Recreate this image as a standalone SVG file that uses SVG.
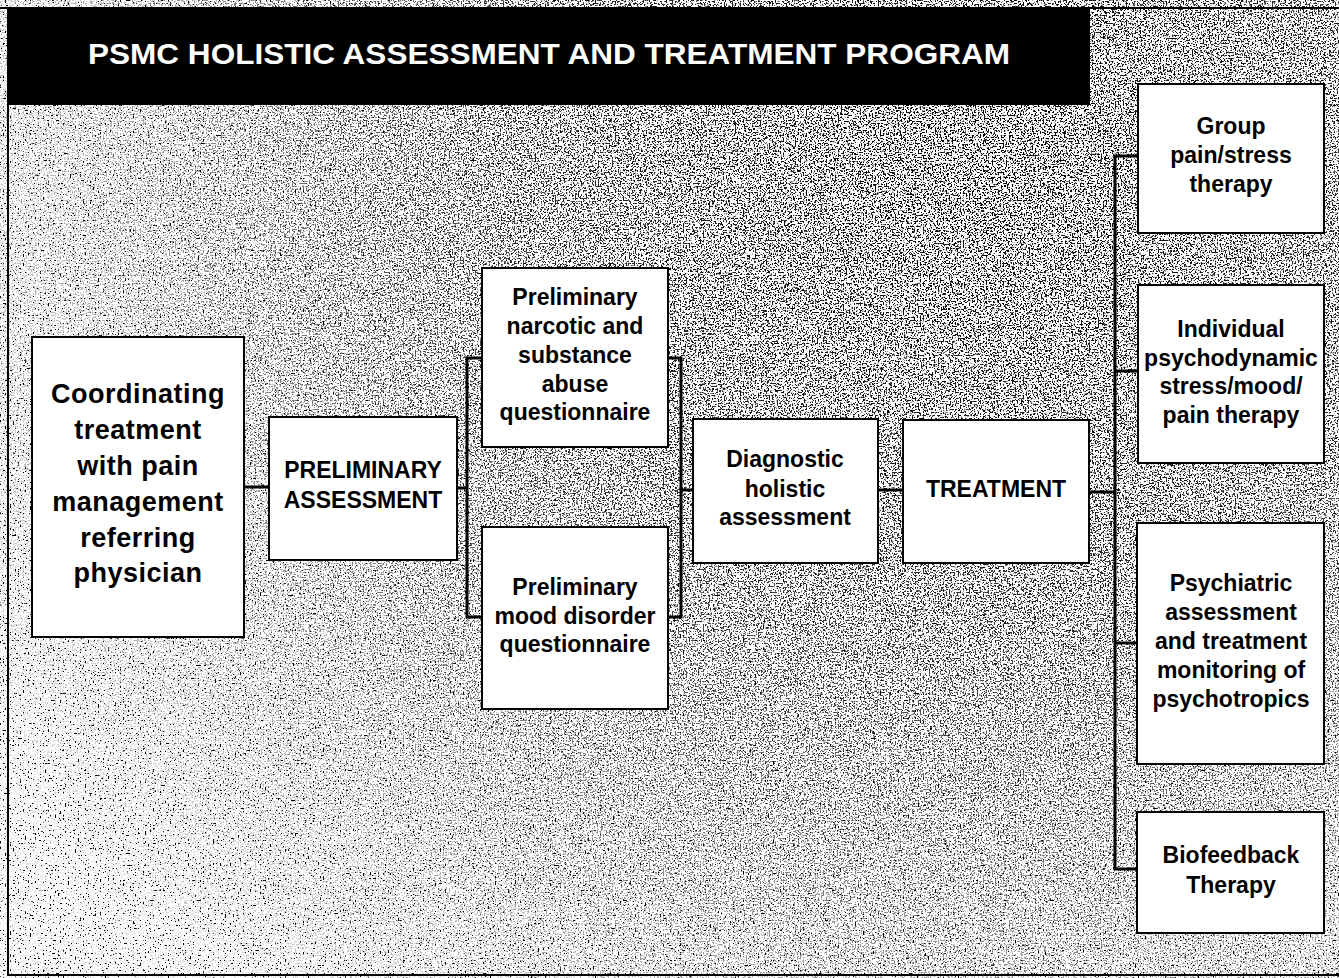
<svg xmlns="http://www.w3.org/2000/svg" width="1339" height="978" viewBox="0 0 1339 978">
<defs>
<filter id="stipA" x="0" y="0" width="100%" height="100%" filterUnits="userSpaceOnUse">
<feTurbulence type="fractalNoise" baseFrequency="0.6" numOctaves="1" seed="4" result="n"/>
<feColorMatrix in="n" type="matrix" values="0 0 0 0 0  0 0 0 0 0  0 0 0 0 0  22 0 0 0 -14.3"/>
</filter>
<filter id="stipB" x="0" y="0" width="100%" height="100%" filterUnits="userSpaceOnUse">
<feTurbulence type="fractalNoise" baseFrequency="0.65" numOctaves="1" seed="11" result="n"/>
<feColorMatrix in="n" type="matrix" values="0 0 0 0 0  0 0 0 0 0  0 0 0 0 0  16 0 0 0 -8.6"/>
</filter>
<radialGradient id="dens" gradientUnits="userSpaceOnUse" cx="980" cy="160" r="1150">
<stop offset="0" stop-color="#fff"/>
<stop offset="0.4" stop-color="#fff" stop-opacity="0.8"/>
<stop offset="0.8" stop-color="#fff" stop-opacity="0.3"/>
<stop offset="1" stop-color="#fff" stop-opacity="0.1"/>
</radialGradient>
<mask id="m" maskUnits="userSpaceOnUse" x="0" y="0" width="1339" height="978">
<rect x="0" y="0" width="1339" height="978" fill="url(#dens)"/>
</mask>
<style>
.box{fill:#fff;stroke:#000;stroke-width:2}
.t{font-family:"Liberation Sans",Arial,sans-serif;font-weight:bold;font-size:23px;fill:#000;text-anchor:middle}
.big{font-size:27px;letter-spacing:0.5px}
.con{fill:none;stroke:#000;stroke-width:3}
.frame{fill:none;stroke:#000;stroke-width:2}
</style>
</defs>
<rect x="0" y="0" width="1339" height="978" fill="#fff"/>
<g id="texture">
<rect x="8" y="9" width="1331" height="966" fill="#000" filter="url(#stipA)"/>
<rect x="8" y="9" width="1331" height="966" fill="#000" filter="url(#stipB)" mask="url(#m)"/>
</g>
<g id="frame">
<line class="frame" x1="0" y1="8" x2="1339" y2="8"/>
<line class="frame" x1="8" y1="8" x2="8" y2="976"/>
<line class="frame" x1="8" y1="975" x2="1339" y2="975"/>
</g>
<g id="title">
<rect x="8" y="8" width="1082" height="97" fill="#000"/>
<text x="88" y="64" font-family="'Liberation Sans',Arial,sans-serif" font-weight="bold" font-size="30" fill="#fff" textLength="922" lengthAdjust="spacingAndGlyphs">PSMC HOLISTIC ASSESSMENT AND TREATMENT PROGRAM</text>
</g>
<g id="connectors">
<line class="con" x1="244" y1="487" x2="269" y2="487"/>
<line class="con" x1="457" y1="488" x2="467" y2="488"/>
<polyline class="con" points="482,358 467,358 467,617 482,617"/>
<polyline class="con" points="668,358 681,358 681,617 668,617"/>
<line class="con" x1="681" y1="490" x2="693" y2="490"/>
<line class="con" x1="878" y1="490" x2="903" y2="490"/>
<line class="con" x1="1089" y1="492" x2="1115" y2="492"/>
<polyline class="con" points="1138,156 1115,156 1115,869 1137,869"/>
<line class="con" x1="1115" y1="371" x2="1138" y2="371"/>
<line class="con" x1="1115" y1="643" x2="1137" y2="643"/>
</g>
<g id="coordinating">
<rect class="box" x="32" y="337" width="212" height="300"/>
<text class="t big" x="138" y="403">Coordinating</text>
<text class="t big" x="138" y="439">treatment</text>
<text class="t big" x="138" y="475">with pain</text>
<text class="t big" x="138" y="511">management</text>
<text class="t big" x="138" y="547">referring</text>
<text class="t big" x="138" y="582">physician</text>
</g>
<g id="preliminary-assessment">
<rect class="box" x="269" y="417" width="188" height="143"/>
<text class="t" x="363" y="478">PRELIMINARY</text>
<text class="t" x="363" y="508">ASSESSMENT</text>
</g>
<g id="narcotic-questionnaire">
<rect class="box" x="482" y="268" width="186" height="179"/>
<text class="t" x="575" y="305">Preliminary</text>
<text class="t" x="575" y="334">narcotic and</text>
<text class="t" x="575" y="363">substance</text>
<text class="t" x="575" y="392">abuse</text>
<text class="t" x="575" y="420">questionnaire</text>
</g>
<g id="mood-questionnaire">
<rect class="box" x="482" y="527" width="186" height="182"/>
<text class="t" x="575" y="595">Preliminary</text>
<text class="t" x="575" y="624">mood disorder</text>
<text class="t" x="575" y="652">questionnaire</text>
</g>
<g id="diagnostic">
<rect class="box" x="693" y="419" width="185" height="144"/>
<text class="t" x="785" y="467">Diagnostic</text>
<text class="t" x="785" y="497">holistic</text>
<text class="t" x="785" y="525">assessment</text>
</g>
<g id="treatment">
<rect class="box" x="903" y="420" width="186" height="143"/>
<text class="t" x="996" y="497">TREATMENT</text>
</g>
<g id="group-therapy">
<rect class="box" x="1138" y="84" width="186" height="149"/>
<text class="t" x="1231" y="134">Group</text>
<text class="t" x="1231" y="163">pain/stress</text>
<text class="t" x="1231" y="192">therapy</text>
</g>
<g id="individual-therapy">
<rect class="box" x="1138" y="285" width="186" height="178"/>
<text class="t" x="1231" y="337">Individual</text>
<text class="t" x="1231" y="366">psychodynamic</text>
<text class="t" x="1231" y="394">stress/mood/</text>
<text class="t" x="1231" y="423">pain therapy</text>
</g>
<g id="psychiatric">
<rect class="box" x="1137" y="523" width="187" height="241"/>
<text class="t" x="1231" y="591">Psychiatric</text>
<text class="t" x="1231" y="620">assessment</text>
<text class="t" x="1231" y="649">and treatment</text>
<text class="t" x="1231" y="678">monitoring of</text>
<text class="t" x="1231" y="707">psychotropics</text>
</g>
<g id="biofeedback">
<rect class="box" x="1137" y="812" width="187" height="121"/>
<text class="t" x="1231" y="863">Biofeedback</text>
<text class="t" x="1231" y="893">Therapy</text>
</g>
</svg>
